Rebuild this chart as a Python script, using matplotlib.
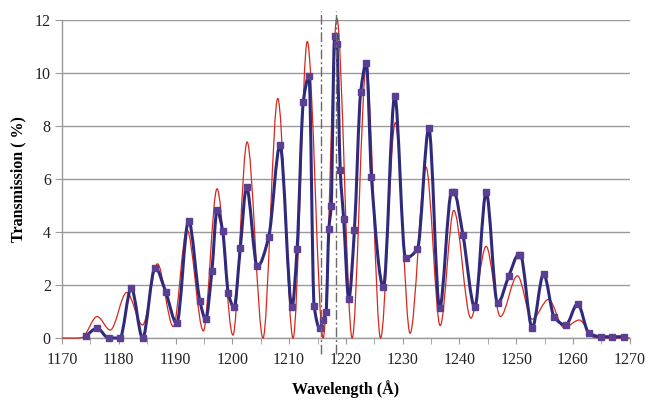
import matplotlib
matplotlib.use("Agg")
import matplotlib.pyplot as plt
from matplotlib.path import Path
from matplotlib.patches import PathPatch, Rectangle
from matplotlib.ticker import MultipleLocator

# measured transmission (squares)
meas_wl = [1174.2, 1176.2, 1178.2, 1180.2, 1182.2, 1184.2, 1186.4, 1188.3, 1190.2, 1192.3,
           1194.3, 1195.3, 1196.4, 1197.3, 1198.3, 1199.3, 1200.3, 1201.4, 1202.5, 1204.4,
           1206.4, 1208.4, 1210.5, 1211.4, 1212.5, 1213.5, 1214.4, 1215.4, 1216.0, 1216.5,
           1217.0, 1217.4, 1218.0, 1218.4, 1219.0, 1219.6, 1220.5, 1221.5, 1222.6, 1223.6,
           1224.5, 1226.6, 1228.6, 1230.5, 1232.6, 1234.6, 1236.5, 1238.6, 1239.0, 1240.6,
           1242.7, 1244.7, 1246.7, 1248.7, 1250.4, 1250.7, 1252.8, 1254.8, 1256.7, 1258.7,
           1260.8, 1262.8, 1264.9, 1266.9, 1268.9]
meas_T = [0.08, 0.37, 0.0, 0.0, 1.89, 0.0, 2.66, 1.72, 0.55, 4.43,
          1.38, 0.71, 2.54, 4.82, 4.03, 1.69, 1.16, 3.40, 5.69, 2.70,
          3.81, 7.28, 1.16, 3.36, 8.92, 9.87, 1.22, 0.37, 0.68, 0.97,
          4.13, 4.97, 11.38, 11.10, 6.33, 4.51, 1.48, 4.09, 9.27, 10.38,
          6.07, 1.94, 9.14, 3.02, 3.37, 7.92, 1.12, 5.50, 5.52, 3.90,
          1.16, 5.50, 1.31, 2.35, 3.14, 3.14, 0.39, 2.42, 0.78, 0.49,
          1.29, 0.18, 0.05, 0.05, 0.05]

# computed transmission (thin red curve), extrema of the fringes
calc_wl = [1170.0, 1172.5, 1173.5, 1176.2, 1178.5, 1181.4, 1184.2, 1186.8, 1189.6, 1192.0,
           1194.9, 1197.3, 1200.1, 1202.6, 1205.4, 1208.0, 1210.7, 1213.2, 1216.0, 1218.4,
           1221.1, 1223.6, 1226.1, 1228.7, 1231.3, 1234.1, 1236.6, 1239.0, 1242.0, 1244.7,
           1247.2, 1250.2, 1252.8, 1255.7, 1258.4, 1261.1, 1263.7, 1266.0, 1270.0]
calc_T = [0.0, 0.0, 0.02, 0.81, 0.30, 1.72, 0.49, 2.80, 0.43, 4.09,
          0.27, 5.63, 0.11, 7.40, 0.0, 9.04, 0.0, 11.19, 0.0, 12.07,
          0.0, 10.28, 0.0, 8.13, 0.18, 6.45, 0.47, 4.82, 0.75, 3.46,
          0.81, 2.35, 0.71, 1.46, 0.39, 0.68, 0.02, 0.0, 0.0]

# reference wavelengths (dash-dot markers)
ref_lines = [1215.7, 1218.3]


def smooth_path(xs, ys):
    # monotone cubic hermite through every point, written out as bezier segments
    n = len(xs)
    h = [xs[i + 1] - xs[i] for i in range(n - 1)]
    d = [(ys[i + 1] - ys[i]) / h[i] for i in range(n - 1)]
    m = [0.0] * n
    m[0], m[-1] = d[0], d[-1]
    for i in range(1, n - 1):
        if d[i - 1] * d[i] > 0:
            w1 = 2 * h[i] + h[i - 1]
            w2 = h[i] + 2 * h[i - 1]
            m[i] = (w1 + w2) / (w1 / d[i - 1] + w2 / d[i])
    verts = [(xs[0], ys[0])]
    codes = [Path.MOVETO]
    for i in range(n - 1):
        verts += [(xs[i] + h[i] / 3, ys[i] + m[i] * h[i] / 3),
                  (xs[i + 1] - h[i] / 3, ys[i + 1] - m[i + 1] * h[i] / 3),
                  (xs[i + 1], ys[i + 1])]
        codes += [Path.CURVE4] * 3
    return Path(verts, codes)


plt.rcParams['font.family'] = ['Liberation Serif', 'DejaVu Serif']

fig = plt.figure(figsize=(6.49, 4.01), dpi=100)
ax = fig.add_axes([0.0955, 0.157, 0.875, 0.793])
ax.set_xlim(1170, 1270)
ax.set_ylim(0, 12)

clip = Rectangle((1169.5, -0.12), 101, 12.6, transform=ax.transData)

red = PathPatch(smooth_path(calc_wl, calc_T), fill=False, edgecolor='#d8281c',
                linewidth=0.9, zorder=3)
ax.add_patch(red)
red.set_clip_path(clip)

blue = PathPatch(smooth_path(meas_wl, meas_T), fill=False, edgecolor='#2f2a7c',
                 linewidth=2.2, zorder=4, capstyle='round', joinstyle='round')
ax.add_patch(blue)
blue.set_clip_path(clip)
ax.plot(meas_wl, meas_T, linestyle='none', marker='s', markersize=4,
        color='#5b3f93', zorder=5, clip_on=False)

for wl in ref_lines:
    ax.plot([wl, wl], [-0.05, 1.03], transform=ax.get_xaxis_transform(),
            color='#6a6a6a', linewidth=1.0, linestyle=(0, (7, 2, 1.5, 2)),
            clip_on=False, zorder=6)

ax.xaxis.set_major_locator(MultipleLocator(10))
ax.xaxis.set_minor_locator(MultipleLocator(5))
ax.yaxis.set_major_locator(MultipleLocator(2))
ax.grid(axis='y', color='#9a9a9a', linewidth=1.0)
ax.set_axisbelow(True)

for side in ('top', 'right'):
    ax.spines[side].set_visible(False)
for side in ('left', 'bottom'):
    ax.spines[side].set_color('#9a9a9a')
    ax.spines[side].set_linewidth(1.0)

ax.tick_params(axis='both', which='both', direction='out', colors='#9a9a9a',
               labelcolor='#222222', labelsize=11.5)
ax.tick_params(axis='x', which='both', length=4, pad=6)
ax.tick_params(axis='y', length=5, pad=3)

ax.set_xlabel('Wavelength (Å)', fontsize=11.5, fontweight='bold', labelpad=9)
ax.set_ylabel('Transmission ( %)', fontsize=11.5, fontweight='bold', labelpad=6)

fig.savefig('out.png', dpi=100)
